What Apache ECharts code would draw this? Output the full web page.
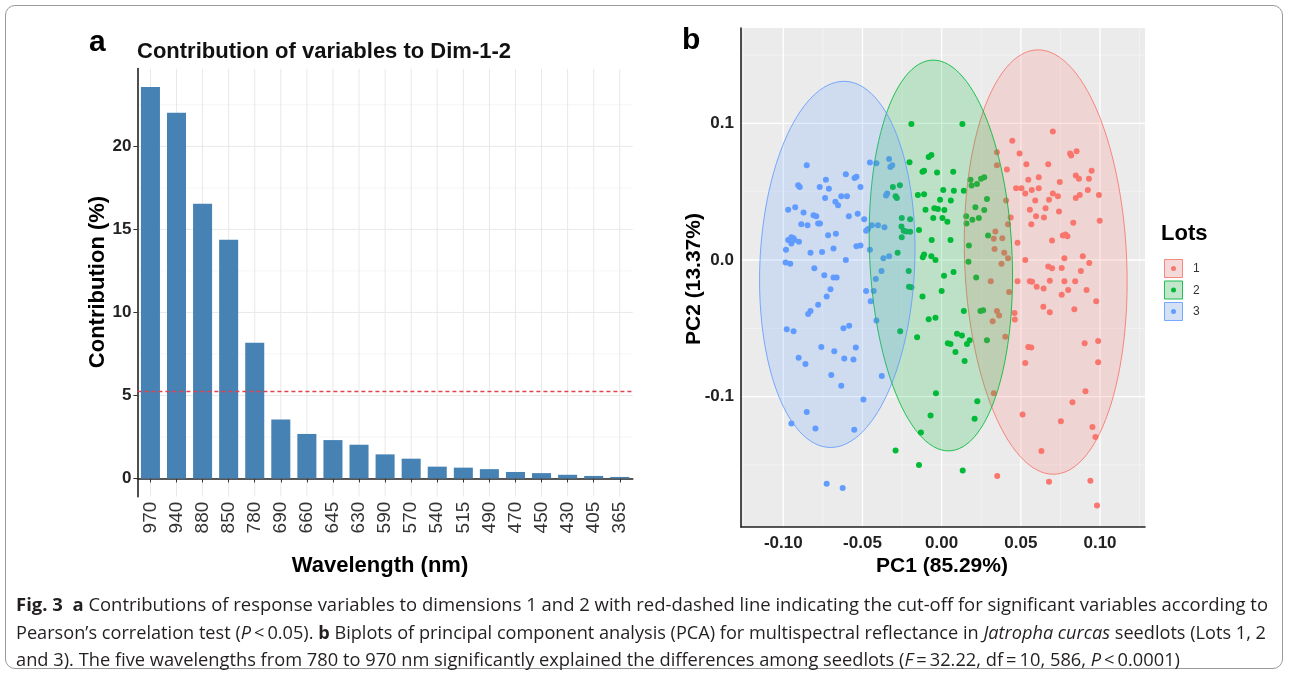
<!DOCTYPE html>
<html>
<head>
<meta charset="utf-8">
<script src="https://cdn.jsdelivr.net/npm/echarts@6/dist/echarts.min.js"></script>
<style>
  html, body { margin: 0; padding: 0; background: #fff; }
  #wrap { position: relative; width: 1290px; height: 676px; overflow: hidden; }
  #chart { position: absolute; left: 0; top: 0; width: 1290px; height: 676px; }
  .frame { position: absolute; left: 5px; top: 5px; width: 1278px; height: 664px;
           border: 1px solid #9a9a9a; border-radius: 10px; box-sizing: border-box; pointer-events: none; }
  .cap { position: absolute; left: 16px; white-space: nowrap; transform-origin: 0 50%;
         font-family: 'Open Sans', 'Noto Sans', sans-serif;
         font-size: 18px; line-height: 22px; color: #231f20; }
</style>
</head>
<body>
<div id="wrap">
  <div id="chart"></div>
  <div class="frame"></div>
  <div class="cap" id="l1" data-w="1252" style="top:593px"><b>Fig. 3</b>&nbsp;&nbsp;<b>a</b> Contributions of response variables to dimensions 1 and 2 with red-dashed line indicating the cut-off for significant variables according to</div>
  <div class="cap" id="l2" data-w="1250" style="top:621px">Pearson’s correlation test (<i>P</i>&thinsp;&lt;&thinsp;0.05). <b>b</b> Biplots of principal component analysis (PCA) for multispectral reflectance in <i>Jatropha curcas</i> seedlots (Lots 1, 2</div>
  <div class="cap" id="l3" data-w="1164" style="top:648px">and 3). The five wavelengths from 780 to 970 nm significantly explained the differences among seedlots (<i>F</i>&thinsp;=&thinsp;32.22, df&thinsp;=&thinsp;10, 586, <i>P</i>&thinsp;&lt;&thinsp;0.0001)</div>
</div>
<script>
// panel a: contribution of each wavelength
const wavelengths = ['970', '940', '880', '850', '780', '690', '660', '645', '630', '590', '570', '540', '515', '490', '470', '450', '430', '405', '365'];
const contribution = [23.57, 22.03, 16.54, 14.38, 8.17, 3.55, 2.68, 2.31, 2.03, 1.45, 1.19, 0.71, 0.65, 0.56, 0.39, 0.32, 0.22, 0.15, 0.09];
const cutoff = 5.26;
const contribTicks = [0, 5, 10, 15, 20];
const contribMinor = [2.5, 7.5, 12.5, 17.5, 22.5];

// panel b: PCA scores per lot
const lotNames = ['1', '2', '3'];
const lotColors = ['#F8766D', '#00BA38', '#619CFF'];
const pcXTicks = [-0.1, -0.05, 0, 0.05, 0.1];
const pcXLabels = ['-0.10', '-0.05', '0.00', '0.05', '0.10'];
const pcXMinor = [-0.125, -0.075, -0.025, 0.025, 0.075, 0.125];
const pcYTicks = [-0.1, 0, 0.1];
const pcYLabels = ['-0.1', '0.0', '0.1'];
const pcYMinor = [-0.15, -0.05, 0.05, 0.15];

const lot1 = [
  [0.0702, 0.0940], [0.0446, 0.0873], [0.0492, 0.0780], [0.0811, 0.0780], [0.0818, 0.0764], [0.0852, 0.0796],
  [0.0349, 0.0788], [0.0349, 0.0694], [0.0412, 0.0662], [0.0535, 0.0700], [0.0673, 0.0700], [0.0947, 0.0654],
  [0.0847, 0.0619], [0.0867, 0.0595], [0.0930, 0.0595], [0.0547, 0.0587], [0.0613, 0.0606], [0.0746, 0.0571],
  [0.0470, 0.0526], [0.0504, 0.0526], [0.0528, 0.0486], [0.0569, 0.0513], [0.0613, 0.0526], [0.0923, 0.0513],
  [0.0993, 0.0475], [0.0872, 0.0475], [0.0847, 0.0454], [0.0702, 0.0486], [0.0734, 0.0467], [0.0678, 0.0441],
  [0.0591, 0.0435], [0.0656, 0.0379], [0.0557, 0.0368], [0.0596, 0.0320], [0.0646, 0.0312], [0.0741, 0.0355],
  [0.0566, 0.0262], [0.0831, 0.0272], [0.0998, 0.0288], [0.0765, 0.0179], [0.0782, 0.0187], [0.0794, 0.0174],
  [0.0697, 0.0142], [0.0479, 0.0126], [0.0891, 0.0027], [0.0775, 0.0013], [0.0932, -0.0021], [0.0528, 0.0000],
  [0.0673, -0.0048], [0.0697, -0.0061], [0.0758, -0.0059], [0.0879, -0.0080], [0.0479, -0.0155], [0.0557, -0.0155],
  [0.0571, -0.0160], [0.0600, -0.0195], [0.0644, -0.0208], [0.0683, -0.0152], [0.0775, -0.0155], [0.0799, -0.0219],
  [0.0843, -0.0155], [0.0915, -0.0219], [0.0758, -0.0254], [0.0976, -0.0302], [0.0642, -0.0342], [0.0683, -0.0382],
  [0.0838, -0.0360], [0.0460, -0.0387], [0.0462, -0.0435], [0.0547, -0.0636], [0.0566, -0.0641], [0.0903, -0.0609],
  [0.0988, -0.0593], [0.0528, -0.0753], [0.0988, -0.0748], [0.0908, -0.0961], [0.0826, -0.1041], [0.0511, -0.1130],
  [0.0753, -0.1180], [0.0952, -0.1223], [0.0971, -0.1295], [0.0630, -0.1397], [0.0351, -0.1581], [0.0678, -0.1623],
  [0.0939, -0.1615], [0.0981, -0.1797], [0.0407, 0.0435], [0.0436, 0.0312], [0.0419, 0.0262], [0.0339, 0.0208],
  [0.0329, 0.0155], [0.0383, 0.0160], [0.0395, 0.0053], [0.0419, 0.0013], [0.0334, 0.0080], [0.0378, -0.0027],
  [0.0349, -0.0374], [0.0322, -0.0449], [0.0363, -0.0406], [0.0402, -0.0561], [0.0329, -0.0975], [0.0310, -0.0155],
  [0.0426, -0.0235]
];
const lot2 = [
  [-0.0191, 0.0996], [0.0131, 0.0996], [-0.0082, 0.0753], [-0.0065, 0.0769], [-0.0111, 0.0654], [-0.0121, 0.0646],
  [-0.0203, 0.0716], [-0.0029, 0.0641], [0.0073, 0.0646], [-0.0264, 0.0547], [-0.0308, 0.0534], [-0.0150, 0.0475],
  [-0.0111, 0.0481], [0.0010, 0.0513], [0.0077, 0.0507], [-0.0010, 0.0441], [0.0058, 0.0435], [-0.0046, 0.0379],
  [-0.0024, 0.0374], [0.0017, 0.0366], [-0.0102, 0.0368], [-0.0291, 0.0467], [-0.0283, 0.0454], [-0.0252, 0.0307],
  [-0.0199, 0.0299], [-0.0254, 0.0246], [-0.0240, 0.0214], [-0.0223, 0.0208], [-0.0199, 0.0206], [-0.0143, 0.0219],
  [-0.0053, 0.0307], [0.0005, 0.0307], [0.0036, 0.0280], [-0.0063, 0.0147], [0.0056, 0.0147], [-0.0252, 0.0166],
  [-0.0111, 0.0040], [-0.0119, 0.0021], [-0.0065, 0.0027], [-0.0278, 0.0053], [-0.0208, -0.0080], [-0.0039, 0.0000],
  [0.0015, -0.0115], [0.0075, -0.0088], [0.0140, 0.0507], [0.0182, 0.0587], [0.0189, 0.0545], [0.0223, 0.0556],
  [0.0249, 0.0595], [0.0269, 0.0606], [0.0213, 0.0387], [0.0269, 0.0366], [0.0286, 0.0446], [0.0155, 0.0320],
  [0.0194, 0.0294], [0.0235, 0.0307], [0.0157, 0.0267], [0.0293, 0.0179], [0.0172, 0.0107], [0.0169, -0.0013],
  [0.0218, -0.0128], [-0.0206, -0.0195], [-0.0191, -0.0200], [-0.0121, -0.0267], [0.0000, -0.0227], [0.0140, -0.0374],
  [0.0245, -0.0374], [0.0262, -0.0368], [-0.0082, -0.0433], [-0.0039, -0.0422], [-0.0262, -0.0521], [-0.0155, -0.0566],
  [0.0097, -0.0539], [0.0128, -0.0553], [0.0039, -0.0609], [0.0056, -0.0614], [0.0160, -0.0614], [0.0177, -0.0587],
  [0.0087, -0.0673], [0.0145, -0.0740], [0.0286, -0.0587], [-0.0036, -0.0975], [0.0225, -0.1033], [-0.0070, -0.1138],
  [0.0208, -0.1162], [-0.0131, -0.1263], [-0.0291, -0.1394], [-0.0143, -0.1501], [0.0133, -0.1541]
];
const lot3 = [
  [-0.0852, 0.0694], [-0.0906, 0.0547], [-0.0896, 0.0534], [-0.0731, 0.0587], [-0.0712, 0.0521], [-0.0605, 0.0627],
  [-0.0550, 0.0601], [-0.0538, 0.0609], [-0.0513, 0.0534], [-0.0770, 0.0534], [-0.0671, 0.0427], [-0.0736, 0.0454],
  [-0.0634, 0.0467], [-0.0598, 0.0467], [-0.0654, 0.0401], [-0.0586, 0.0320], [-0.0530, 0.0339], [-0.0453, 0.0713],
  [-0.0412, 0.0708], [-0.0332, 0.0740], [-0.0324, 0.0681], [-0.0312, 0.0694], [-0.0344, 0.0486], [-0.0351, 0.0473],
  [-0.0969, 0.0368], [-0.0925, 0.0387], [-0.0872, 0.0347], [-0.0809, 0.0328], [-0.0792, 0.0320], [-0.0886, 0.0262],
  [-0.0847, 0.0254], [-0.0780, 0.0267], [-0.0768, 0.0267], [-0.0668, 0.0192], [-0.0717, 0.0182], [-0.0489, 0.0299],
  [-0.0477, 0.0214], [-0.0465, 0.0227], [-0.0441, 0.0254], [-0.0402, 0.0254], [-0.0361, 0.0240], [-0.0969, 0.0147],
  [-0.0949, 0.0166], [-0.0935, 0.0160], [-0.0930, 0.0147], [-0.0901, 0.0134], [-0.0949, 0.0120], [-0.0983, 0.0075],
  [-0.0828, 0.0053], [-0.0755, 0.0059], [-0.0683, 0.0085], [-0.0538, 0.0101], [-0.0513, 0.0107], [-0.0453, 0.0075],
  [-0.0605, 0.0000], [-0.0985, -0.0019], [-0.0956, -0.0027], [-0.0804, -0.0061], [-0.0741, -0.0112], [-0.0683, -0.0128],
  [-0.0663, -0.0128], [-0.0702, -0.0214], [-0.0726, -0.0267], [-0.0780, -0.0328], [-0.0828, -0.0374], [-0.0843, -0.0395],
  [-0.0477, -0.0227], [-0.0448, -0.0302], [-0.0978, -0.0507], [-0.0935, -0.0521], [-0.0620, -0.0499], [-0.0584, -0.0481],
  [-0.0760, -0.0636], [-0.0678, -0.0668], [-0.0542, -0.0641], [-0.0903, -0.0716], [-0.0860, -0.0761], [-0.0615, -0.0721],
  [-0.0557, -0.0729], [-0.0697, -0.0841], [-0.0634, -0.0921], [-0.0378, -0.0849], [-0.0494, -0.1020], [-0.0852, -0.1113],
  [-0.0949, -0.1196], [-0.0797, -0.1234], [-0.0552, -0.1242], [-0.0726, -0.1637], [-0.0625, -0.1669], [-0.0332, 0.0027],
  [-0.0380, -0.0080], [-0.0416, -0.0139], [-0.0429, -0.0227], [-0.0412, -0.0443], [-0.0368, 0.0013]
];

// 95% ellipses: centre, half widths, slant of the long axis
const ellCenterX = [0.0657, -0.0005, -0.0659];
const ellCenterY = [-0.0015, 0.0033, -0.0032];
const ellRadiusX = [0.0512, 0.0450, 0.0489];
const ellRadiusY = [0.1553, 0.1430, 0.1340];
const ellSlant = [-0.0048, -0.0048, 0.0042];

const FONT = 'Arial, "Liberation Sans", Helvetica, sans-serif';

function rgba(hex, a) {
  const n = parseInt(hex.slice(1), 16);
  return 'rgba(' + (n >> 16) + ',' + ((n >> 8) & 255) + ',' + (n & 255) + ',' + a + ')';
}
function pickLabel(ticks, labels) {
  return function (v) {
    for (let i = 0; i < ticks.length; i++) if (Math.abs(ticks[i] - v) < 1e-9) return labels[i];
    return '';
  };
}

// grid lines drawn through the axes' own scales
function hLines(xi, yi, values, color, width) {
  return {
    type: 'custom', xAxisIndex: xi, yAxisIndex: yi, z: 0, silent: true, clip: true,
    data: values.map(v => [0, v]),
    renderItem: (params, api) => {
      const cs = params.coordSys;
      const y = api.coord([0, api.value(1)])[1];
      return { type: 'line', shape: { x1: cs.x, y1: y, x2: cs.x + cs.width, y2: y },
               style: { stroke: color, lineWidth: width } };
    }
  };
}
function vLines(xi, yi, values, color, width) {
  return {
    type: 'custom', xAxisIndex: xi, yAxisIndex: yi, z: 0, silent: true, clip: true,
    data: values.map(v => [v, 0]),
    renderItem: (params, api) => {
      const cs = params.coordSys;
      const x = api.coord([api.value(0), 0])[0];
      return { type: 'line', shape: { x1: x, y1: cs.y, x2: x, y2: cs.y + cs.height },
               style: { stroke: color, lineWidth: width } };
    }
  };
}

const chart = echarts.init(document.getElementById('chart'), null, { renderer: 'canvas' });

const series = [
  hLines(0, 0, contribMinor, '#f3f3f3', 0.8),
  hLines(0, 0, contribTicks, '#e8e8e8', 1),
  vLines(0, 0, wavelengths.map((w, i) => i), '#e8e8e8', 1),
  {
    type: 'bar', xAxisIndex: 0, yAxisIndex: 0, data: contribution, barWidth: '73%', z: 2,
    itemStyle: { color: '#4682B4' },
    markLine: {
      silent: true, symbol: 'none', label: { show: false },
      lineStyle: { color: '#e0434b', type: [4, 3], width: 1.3 },
      data: [{ yAxis: cutoff }]
    }
  },
  hLines(1, 1, pcYMinor, '#f7f7f7', 0.7),
  vLines(1, 1, pcXMinor, '#f7f7f7', 0.7),
  hLines(1, 1, pcYTicks, '#ffffff', 1.3),
  vLines(1, 1, pcXTicks, '#ffffff', 1.3)
];
[lot1, lot2, lot3].forEach((pts, i) => {
  series.push({
    type: 'scatter', name: lotNames[i], xAxisIndex: 1, yAxisIndex: 1, z: 3,
    symbol: 'circle', symbolSize: 6, data: pts,
    itemStyle: { color: lotColors[i], opacity: 1 }
  });
});
series.push({
  type: 'custom', xAxisIndex: 1, yAxisIndex: 1, z: 4, silent: true, clip: true,
  data: lotNames.map((n, i) => [ellCenterX[i], ellCenterY[i]]),
  renderItem: (params, api) => {
    const i = params.dataIndex;
    const pts = [];
    for (let k = 0; k < 120; k++) {
      const t = k / 120 * Math.PI * 2;
      pts.push(api.coord([
        ellCenterX[i] + ellRadiusX[i] * Math.cos(t) + ellSlant[i] * Math.sin(t),
        ellCenterY[i] + ellRadiusY[i] * Math.sin(t)
      ]));
    }
    return { type: 'polygon', shape: { points: pts },
             style: { fill: rgba(lotColors[i], 0.2), stroke: rgba(lotColors[i], 0.85), lineWidth: 1 } };
  }
});

// legend of panel b
const legendEls = [
  { type: 'text', x: 1161, y: 234, style: { text: 'Lots', font: 'bold 22px ' + FONT, fill: '#000', textAlign: 'left', textVerticalAlign: 'middle' } }
];
lotNames.forEach((n, i) => {
  const y0 = 259 + i * 21.5;
  legendEls.push({ type: 'rect', shape: { x: 1164, y: y0, width: 19, height: 19 }, style: { fill: '#f2f2f2' } });
  legendEls.push({ type: 'rect', shape: { x: 1164.5, y: y0 + 0.5, width: 18, height: 18 },
                   style: { fill: rgba(lotColors[i], 0.2), stroke: rgba(lotColors[i], 0.85), lineWidth: 1 } });
  legendEls.push({ type: 'circle', shape: { cx: 1173.5, cy: y0 + 9.5, r: 2.5 }, style: { fill: lotColors[i] } });
  legendEls.push({ type: 'text', x: 1193, y: y0 + 10, style: { text: n, font: '12px ' + FONT, fill: '#333', textAlign: 'left', textVerticalAlign: 'middle' } });
});

const option = {
  backgroundColor: '#ffffff',
  animation: false,
  grid: [
    { left: 137.4, top: 68.5, width: 495.4, height: 428.2, containLabel: false },
    { left: 741, top: 28, width: 404, height: 499, containLabel: false, show: true, backgroundColor: '#ebebeb', borderWidth: 0 }
  ],
  xAxis: [
    {
      type: 'category', gridIndex: 0, data: wavelengths, boundaryGap: true,
      axisLine: { show: true, lineStyle: { color: '#222', width: 1.6 } },
      axisTick: { show: true, alignWithLabel: true, length: 4, lineStyle: { color: '#333' } },
      axisLabel: { interval: 0, rotate: 90, margin: 5, fontSize: 19, fontFamily: FONT, color: '#333' },
      splitLine: { show: false }
    },
    {
      type: 'value', gridIndex: 1, min: -0.1267, max: 0.1284,
      axisLine: { show: true, onZero: false, lineStyle: { color: '#222', width: 1.6 } },
      axisTick: { show: false, customValues: pcXTicks },
      axisLabel: { customValues: pcXTicks, formatter: pickLabel(pcXTicks, pcXLabels), margin: 8,
                   fontSize: 17, fontWeight: 'bold', fontFamily: FONT, color: '#222' },
      splitLine: { show: false }
    }
  ],
  yAxis: [
    {
      type: 'value', gridIndex: 0, min: -1.1, max: 24.69,
      axisLine: { show: true, lineStyle: { color: '#222', width: 1.6 } },
      axisTick: { show: true, customValues: contribTicks, length: 4, lineStyle: { color: '#333' } },
      axisLabel: { customValues: contribTicks, margin: 6, fontSize: 17, fontWeight: 'bold', fontFamily: FONT, color: '#222' },
      splitLine: { show: false }
    },
    {
      type: 'value', gridIndex: 1, min: -0.1954, max: 0.1698,
      axisLine: { show: true, onZero: false, lineStyle: { color: '#222', width: 1.6 } },
      axisTick: { show: false, customValues: pcYTicks },
      axisLabel: { customValues: pcYTicks, formatter: pickLabel(pcYTicks, pcYLabels), margin: 7,
                   fontSize: 17, fontWeight: 'bold', fontFamily: FONT, color: '#222' },
      splitLine: { show: false }
    }
  ],
  graphic: [
    { type: 'text', x: 89, y: 43, style: { text: 'a', font: 'bold 30px ' + FONT, fill: '#000', textAlign: 'left', textVerticalAlign: 'middle' } },
    { type: 'text', x: 137, y: 52, style: { text: 'Contribution of variables to Dim-1-2', font: 'bold 22px ' + FONT, fill: '#111', textAlign: 'left', textVerticalAlign: 'middle' } },
    { type: 'text', x: 98, y: 282, rotation: Math.PI / 2, style: { text: 'Contribution (%)', font: 'bold 22px ' + FONT, fill: '#000', textAlign: 'center', textVerticalAlign: 'middle' } },
    { type: 'text', x: 380, y: 566, style: { text: 'Wavelength (nm)', font: 'bold 22px ' + FONT, fill: '#000', textAlign: 'center', textVerticalAlign: 'middle' } },
    { type: 'text', x: 682, y: 41, style: { text: 'b', font: 'bold 30px ' + FONT, fill: '#000', textAlign: 'left', textVerticalAlign: 'middle' } },
    { type: 'text', x: 694, y: 279, rotation: Math.PI / 2, style: { text: 'PC2 (13.37%)', font: 'bold 21px ' + FONT, fill: '#000', textAlign: 'center', textVerticalAlign: 'middle' } },
    { type: 'text', x: 942, y: 566, style: { text: 'PC1 (85.29%)', font: 'bold 21px ' + FONT, fill: '#000', textAlign: 'center', textVerticalAlign: 'middle' } }
  ].concat(legendEls),
  series: series
};
chart.setOption(option);

// stretch caption lines to the widths in the figure
['l1', 'l2', 'l3'].forEach(id => {
  const el = document.getElementById(id);
  const w = el.getBoundingClientRect().width;
  const target = parseFloat(el.dataset.w);
  el.style.transform = 'scaleX(' + (target / w) + ')';
});
</script>
</body>
</html>
